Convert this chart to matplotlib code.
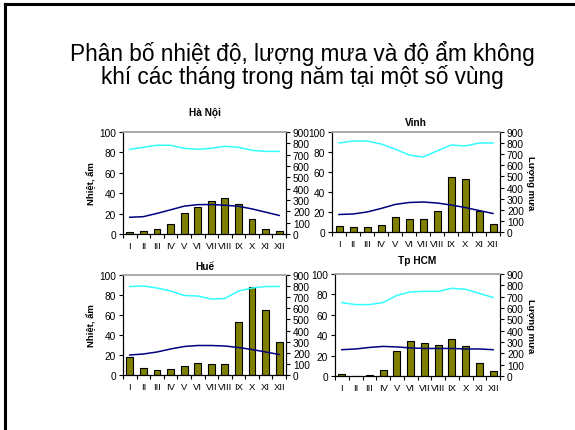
import matplotlib
matplotlib.use("Agg")
import matplotlib.pyplot as plt
from matplotlib.lines import Line2D

plt.rcParams["font.family"] = ["Liberation Sans", "DejaVu Sans"]

months = ["I", "II", "III", "IV", "V", "VI", "VII", "VIII", "IX", "X", "XI", "XII"]

stations = ["Hà Nội", "Vinh", "Huế", "Tp HCM"]

rain_hanoi = [18, 26, 44, 90, 188, 240, 288, 318, 265, 131, 43, 23]
temp_hanoi = [16.4, 17.0, 20.2, 23.7, 27.3, 28.8, 28.9, 28.2, 27.2, 24.6, 21.4, 18.2]
hum_hanoi = [83, 85, 87, 87, 84, 83, 84, 86, 85, 82, 81, 81]

rain_vinh = [52, 44, 48, 62, 138, 116, 120, 190, 492, 473, 190, 68]
temp_vinh = [17.5, 18.0, 20.0, 23.5, 27.5, 29.5, 30.0, 29.0, 27.0, 24.5, 21.5, 18.5]
hum_vinh = [89, 91, 91, 88, 83, 77, 75, 81, 87, 86, 89, 89]

rain_hue = [162, 62, 48, 53, 84, 112, 97, 102, 475, 795, 583, 300]
temp_hue = [20.0, 21.0, 23.0, 26.0, 28.5, 29.5, 29.5, 29.0, 27.5, 25.5, 23.0, 20.5]
hum_hue = [88.5, 89, 87, 84, 79.5, 79, 76, 76.5, 84, 87, 88.5, 88.5]

rain_hcm = [14, 4, 12, 50, 218, 312, 294, 270, 327, 267, 116, 48]
temp_hcm = [25.8, 26.5, 28.0, 29.0, 28.5, 27.5, 27.0, 27.0, 27.0, 26.5, 26.5, 25.8]
hum_hcm = [72, 70, 70, 72, 79, 82.5, 83, 83, 86, 85, 81, 77]

rains = [rain_hanoi, rain_vinh, rain_hue, rain_hcm]
temps = [temp_hanoi, temp_vinh, temp_hue, temp_hcm]
hums = [hum_hanoi, hum_vinh, hum_hue, hum_hcm]

W, H = 575, 431
fig = plt.figure(figsize=(W / 100, H / 100), dpi=100)

# slide frame (left and top edges visible)
fig.add_artist(Line2D([5 / W, 5 / W], [0, 1 - 5 / H], color="black", lw=2.2))
fig.add_artist(Line2D([5 / W, 1], [1 - 5 / H, 1 - 5 / H], color="black", lw=2.2))

fig.text(0.526, 1 - 53 / H, "Phân bố nhiệt độ, lượng mưa và độ ẩm không",
         ha="center", va="center", fontsize=16.3)
fig.text(0.526, 1 - 77 / H, "khí các tháng trong năm tại một số vùng",
         ha="center", va="center", fontsize=16.3)

# axes boxes in pixels: left, top, right, bottom
boxes = [(123, 133, 286, 235), (332, 133, 500, 233),
         (123, 276, 286, 376), (335, 275, 500, 377)]
title_pads = [12, 5, 4, 8]
left_label = [True, False, True, False]
right_label = [False, True, False, True]

x = list(range(12))
for i, st in enumerate(stations):
    l, t, r, b = boxes[i]
    ax = fig.add_axes([l / W, 1 - b / H, (r - l) / W, (b - t) / H])
    ax2 = ax.twinx()
    ax2.bar(x, rains[i], width=0.5, color="#808000", edgecolor="black", linewidth=0.8)
    ax2.set_ylim(0, 900)
    ax2.set_yticks(range(0, 901, 100))
    ax.plot(x, hums[i], color="#33FFFF", lw=1.1)
    ax.plot(x, temps[i], color="#000080", lw=1.1)
    ax.set_ylim(0, 100)
    ax.set_yticks(range(0, 101, 20))
    ax.set_xlim(-0.5, 11.5)
    ax.set_zorder(ax2.get_zorder() + 1)
    ax.patch.set_visible(False)

    ax.set_xticks(x)
    ax.set_xticklabels(months)
    ax.set_xticks([k - 0.5 for k in range(13)], minor=True)
    ax.tick_params(axis="x", which="major", length=0, labelsize=6.8, pad=5)
    ax.tick_params(axis="x", which="minor", length=3, width=0.8, direction="out")
    ax.tick_params(axis="y", labelsize=7.3, length=3, width=0.8, pad=2)
    ax2.tick_params(axis="y", labelsize=7.3, length=3, width=0.8, pad=2)

    for a in (ax, ax2):
        a.spines["top"].set_color("#aaaaaa")
        a.spines["top"].set_linewidth(1.2)
        a.spines["left"].set_linewidth(0.8)
        a.spines["right"].set_linewidth(0.8)
        a.spines["bottom"].set_linewidth(0.8)

    ax.set_title(st, fontsize=7.3, fontweight="bold", pad=title_pads[i])
    if left_label[i]:
        ax.set_ylabel("Nhiệt, ẩm", fontsize=6.8, fontweight="bold", labelpad=2)
    if right_label[i]:
        ax2.set_ylabel("Lượng mưa", fontsize=6.8, fontweight="bold", rotation=270, labelpad=8)

fig.savefig("out.png", dpi=100)
